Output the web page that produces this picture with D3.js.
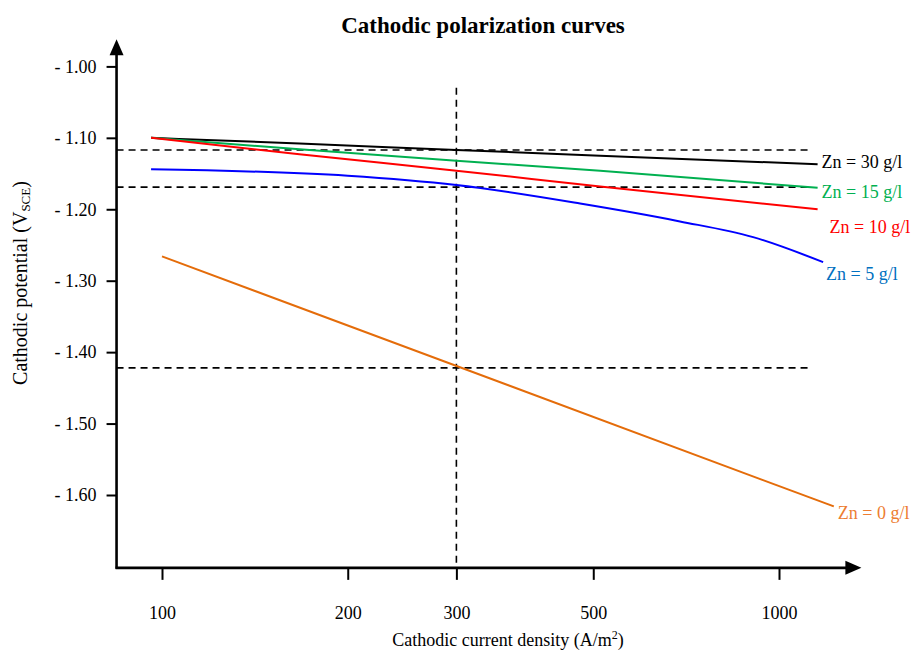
<!DOCTYPE html>
<html lang='en'>
<head>
  <meta charset='UTF-8'>
  <title>Cathodic polarization curves</title>
  <style>
  body {
    margin: 0;
    background: white;
  }
  svg text {
    font-family: 'Liberation Serif', 'Times New Roman', serif;
    fill: black;
  }
  .axis path {
    display: none;
  }
  .axis line {
    stroke: black;
    stroke-width: 2;
  }
  .axis text {
    font-size: 18px;
  }
  .curve {
    fill: none;
    stroke-width: 2;
  }
  .guide {
    stroke: black;
    stroke-width: 1.6;
    stroke-dasharray: 7 5;
  }
  </style>
  <script src='https://d3js.org/d3.v7.min.js'></script>
</head>
<body>
  <script>

  // data (current density in A/m2, potential in V vs SCE)

  var seriesNames = ['Zn = 30 g/l', 'Zn = 15 g/l', 'Zn = 10 g/l', 'Zn = 5 g/l', 'Zn = 0 g/l'];
  var seriesColors = ['#000000', '#00b050', '#ff0000', '#0000ff', '#e46c0a'];
  var labelColors = ['#000000', '#00b050', '#ff0000', '#0070c0', '#ed7d31'];

  var zn30Current = [96, 167, 300, 513, 1155];
  var zn30Potential = [-1.100, -1.108, -1.117, -1.125, -1.137];

  var zn15Current = [96, 167, 300, 513, 1155];
  var zn15Potential = [-1.100, -1.116, -1.132, -1.146, -1.170];

  var zn10Current = [96, 167, 300, 513, 1155];
  var zn10Potential = [-1.100, -1.123, -1.146, -1.168, -1.200];

  var zn5Current = [96, 200, 300, 476, 691, 908, 1179];
  var zn5Potential = [-1.144, -1.153, -1.166, -1.192, -1.217, -1.239, -1.274];

  var zn0Current = [100, 1227];
  var zn0Potential = [-1.266, -1.616];

  var xTicks = [100, 200, 300, 500, 1000];
  var yTicks = [-1.00, -1.10, -1.20, -1.30, -1.40, -1.50, -1.60];

  // dashed guide lines
  var guidePotentials = [-1.117, -1.169, -1.422];
  var guideCurrent = 300;
  var guideTop = -1.030;
  var guideEnd = 1122;

  // axis extents (where the arrows sit)
  var xMin = 84.4, xMax = 1360;
  var yMin = -1.702, yMax = -0.962;

  var svgWidth = 916;
  var svgHeight = 650;

  var svg = d3.select('body').append('svg')
    .attr('width', svgWidth)
    .attr('height', svgHeight);

  var x = d3.scaleLog().domain([100, 1000]).range([162, 779]);
  var y = d3.scaleLinear().domain([-1.0, -1.6]).range([66.4, 495]);

  var series = [
    { current: zn30Current, potential: zn30Potential },
    { current: zn15Current, potential: zn15Potential },
    { current: zn10Current, potential: zn10Potential },
    { current: zn5Current, potential: zn5Potential },
    { current: zn0Current, potential: zn0Potential }
  ].map(function (s, i) {
    return {
      name: seriesNames[i],
      color: seriesColors[i],
      labelColor: labelColors[i],
      points: s.current.map(function (c, j) { return [c, s.potential[j]]; })
    };
  });

  // label offsets from the end of each curve
  var labelDx = [4, 4, 12, 3, 4];
  var labelDy = [2, 8, 22, 16, 11];

  var x0 = x(xMin), x1 = x(xMax);
  var y0 = y(yMin), y1 = y(yMax);

  // dashed guides

  svg.selectAll('.guide.h')
    .data(guidePotentials)
    .enter()
    .append('line')
    .attr('class', 'guide h')
    .attr('x1', x0)
    .attr('x2', x(guideEnd))
    .attr('y1', function (d) { return y(d); })
    .attr('y2', function (d) { return y(d); });

  svg.append('line')
    .attr('class', 'guide v')
    .attr('x1', x(guideCurrent))
    .attr('x2', x(guideCurrent))
    .attr('y1', y(guideTop))
    .attr('y2', y0);

  // curves

  var line = d3.line()
    .x(function (d) { return x(d[0]); })
    .y(function (d) { return y(d[1]); })
    .curve(d3.curveMonotoneX);

  svg.selectAll('.curve')
    .data(series)
    .enter()
    .append('path')
    .attr('class', 'curve')
    .attr('stroke', function (d) { return d.color; })
    .attr('d', function (d) { return line(d.points); });

  svg.selectAll('.series-label')
    .data(series)
    .enter()
    .append('text')
    .attr('class', 'series-label')
    .attr('font-size', '18px')
    .style('fill', function (d) { return d.labelColor; })
    .attr('x', function (d, i) { return x(d.points[d.points.length - 1][0]) + labelDx[i]; })
    .attr('y', function (d, i) { return y(d.points[d.points.length - 1][1]) + labelDy[i] + 2; })
    .text(function (d) { return d.name; });

  // axes

  svg.append('g')
    .attr('class', 'axis x')
    .attr('transform', 'translate(0,' + y0 + ')')
    .call(d3.axisBottom(x).tickValues(xTicks).tickSize(12).tickPadding(26).tickFormat(d3.format('d')));

  svg.append('g')
    .attr('class', 'axis y')
    .attr('transform', 'translate(' + x0 + ',0)')
    .call(d3.axisLeft(y).tickValues(yTicks).tickSize(10).tickPadding(10)
      .tickFormat(function (d) { return '- ' + Math.abs(d).toFixed(2); }));

  svg.append('line')
    .attr('x1', x0 - 1).attr('x2', x1 - 14)
    .attr('y1', y0).attr('y2', y0)
    .attr('stroke', 'black').attr('stroke-width', 2.6);

  svg.append('line')
    .attr('x1', x0).attr('x2', x0)
    .attr('y1', y0 + 1).attr('y2', y1 + 14)
    .attr('stroke', 'black').attr('stroke-width', 2.6);

  svg.append('path')
    .attr('d', 'M' + x1 + ',' + y0 + 'L' + (x1 - 16) + ',' + (y0 - 7) + 'L' + (x1 - 16) + ',' + (y0 + 7) + 'Z')
    .attr('fill', 'black');

  svg.append('path')
    .attr('d', 'M' + x0 + ',' + y1 + 'L' + (x0 - 7) + ',' + (y1 + 16) + 'L' + (x0 + 7) + ',' + (y1 + 16) + 'Z')
    .attr('fill', 'black');

  // titles

  svg.append('text')
    .attr('x', 483)
    .attr('y', 33)
    .attr('text-anchor', 'middle')
    .attr('font-size', '23px')
    .attr('font-weight', 'bold')
    .text('Cathodic polarization curves');

  var xLabel = svg.append('text')
    .attr('x', 508)
    .attr('y', 646)
    .attr('text-anchor', 'middle')
    .attr('font-size', '18px');
  xLabel.append('tspan').text('Cathodic current density (A/m');
  xLabel.append('tspan').attr('font-size', '12px').attr('dy', -7).text('2');
  xLabel.append('tspan').attr('dy', 7).text(')');

  var yLabel = svg.append('text')
    .attr('transform', 'translate(27,283) rotate(-90)')
    .attr('text-anchor', 'middle')
    .attr('font-size', '20px');
  yLabel.append('tspan').text('Cathodic potential (V');
  yLabel.append('tspan').attr('font-size', '13px').attr('dy', 3).text('SCE');
  yLabel.append('tspan').attr('dy', -3).text(')');
  </script>
</body>
</html>
